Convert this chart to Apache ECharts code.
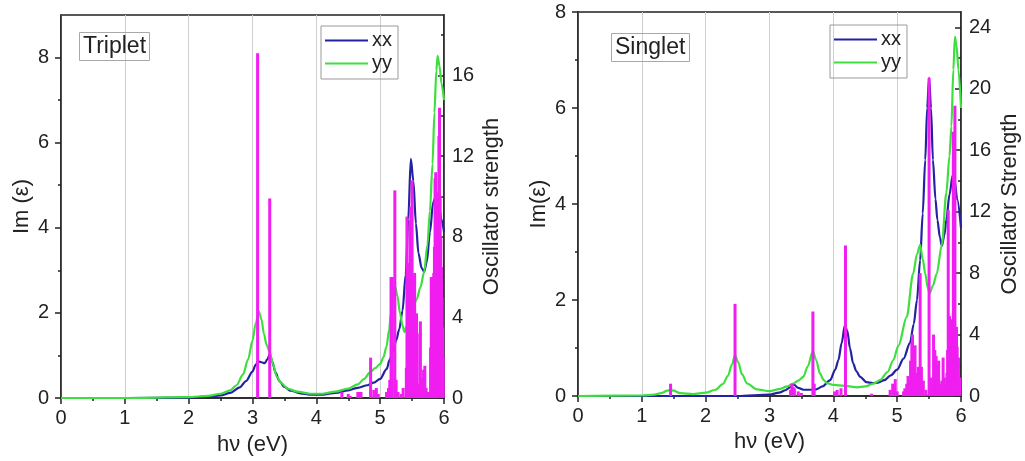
<!DOCTYPE html>
<html>
<head>
<meta charset="utf-8">
<script src="https://cdn.jsdelivr.net/npm/echarts@6/dist/echarts.min.js"></script>
<style>
html,body{margin:0;padding:0;background:#fff;}
#c{width:1025px;height:461px;}
</style>
</head>
<body>
<div id="c"></div>
<script>
// ---------- data ----------
const xTicks = [0, 1, 2, 3, 4, 5, 6];
const tripletLeftTicks = [0, 2, 4, 6, 8];
const tripletRightTicks = [0, 4, 8, 12, 16];
const singletLeftTicks = [0, 2, 4, 6, 8];
const singletRightTicks = [0, 4, 8, 12, 16, 20, 24];

// Triplet, Im(eps) xx  [hv, value]
const tripletXX = [[0,0],[1,0],[2,0.01],[2.3,0.03],[2.5,0.06],[2.65,0.12],[2.8,0.25],[2.9,0.4],[3.0,0.62],[3.05,0.78],[3.09,0.86],[3.14,0.84],[3.19,0.82],[3.23,0.9],[3.27,1.02],[3.31,0.85],[3.36,0.6],[3.42,0.4],[3.5,0.26],[3.6,0.17],[3.75,0.11],[3.9,0.08],[4.1,0.08],[4.3,0.12],[4.5,0.18],[4.65,0.24],[4.8,0.3],[4.9,0.36],[5.0,0.45],[5.1,0.68],[5.15,0.9],[5.2,1.1],[5.25,1.35],[5.3,1.62],[5.35,2.05],[5.4,2.9],[5.44,4.2],[5.48,5.62],[5.52,5.1],[5.56,4.1],[5.6,3.4],[5.65,3.05],[5.69,2.97],[5.73,3.2],[5.78,3.9],[5.83,4.6],[5.87,4.73],[5.92,4.5],[5.96,4.2],[6.0,3.9]];
// Triplet, Im(eps) yy
const tripletYY = [[0,0],[1,0],[2,0.02],[2.3,0.05],[2.5,0.1],[2.65,0.18],[2.75,0.3],[2.85,0.55],[2.93,0.9],[3.0,1.35],[3.05,1.75],[3.1,2.03],[3.14,1.85],[3.18,1.5],[3.22,1.25],[3.27,1.08],[3.32,0.8],[3.38,0.5],[3.45,0.35],[3.55,0.22],[3.7,0.15],[3.9,0.1],[4.1,0.1],[4.3,0.15],[4.5,0.22],[4.65,0.32],[4.75,0.45],[4.84,0.6],[4.92,0.7],[5.0,0.8],[5.05,0.95],[5.1,1.21],[5.14,1.6],[5.17,2.0],[5.2,2.4],[5.23,2.65],[5.27,2.4],[5.31,2.0],[5.35,1.7],[5.38,1.55],[5.42,1.7],[5.5,2.05],[5.57,2.31],[5.63,2.6],[5.69,2.97],[5.74,3.6],[5.78,4.4],[5.82,5.5],[5.85,6.7],[5.88,7.7],[5.9,8.04],[5.93,7.8],[5.96,7.4],[6.0,7.0]];
// Triplet, oscillator strength  [hv, f]
const tripletBars = [[3.08,17.1],[3.27,9.9],[4.40,0.3],[4.50,0.2],[4.53,0.1],[4.65,0.3],[4.68,0.3],[4.70,0.3],[4.85,2.0],[4.90,0.4],[4.94,0.5],[4.97,0.2],[5.10,0.3],[5.13,0.5],[5.15,0.9],[5.17,6.0],[5.19,6.0],[5.23,10.3],[5.25,0.9],[5.28,0.3],[5.33,0.2],[5.36,0.5],[5.41,1.5],[5.42,9.0],[5.43,5.5],[5.45,6.7],[5.47,8.8],[5.48,9.5],[5.50,10.8],[5.51,5.9],[5.53,5.5],[5.54,6.2],[5.57,4.2],[5.59,0.7],[5.62,3.2],[5.63,3.8],[5.65,1.0],[5.66,0.6],[5.68,1.4],[5.70,1.6],[5.72,0.5],[5.74,0.3],[5.77,0.3],[5.79,2.5],[5.80,6.0],[5.81,4.5],[5.82,6.0],[5.83,5.5],[5.84,6.2],[5.85,7.5],[5.86,10.9],[5.87,11.2],[5.88,9.0],[5.89,10.2],[5.90,7.0],[5.91,9.5],[5.92,13.0],[5.93,14.4],[5.94,10.0],[5.95,8.0],[5.96,6.5],[5.97,5.0],[5.98,3.5],[5.99,2.0]];

// Singlet, Im(eps) xx
const singletXX = [[0,0],[2.5,0],[3.0,0.03],[3.15,0.07],[3.25,0.12],[3.32,0.18],[3.38,0.24],[3.45,0.17],[3.53,0.13],[3.63,0.13],[3.73,0.14],[3.83,0.2],[3.95,0.33],[4.03,0.55],[4.08,0.75],[4.13,1.1],[4.18,1.47],[4.22,1.35],[4.26,1.0],[4.31,0.68],[4.36,0.52],[4.42,0.4],[4.52,0.29],[4.62,0.27],[4.7,0.28],[4.8,0.33],[4.9,0.43],[5.0,0.55],[5.1,0.78],[5.2,1.1],[5.26,1.5],[5.31,2.0],[5.36,2.83],[5.4,3.8],[5.44,4.92],[5.47,6.0],[5.5,6.63],[5.53,6.0],[5.56,4.92],[5.6,4.1],[5.63,3.67],[5.67,3.3],[5.7,3.13],[5.74,3.35],[5.77,3.67],[5.82,4.2],[5.87,4.6],[5.9,4.5],[5.94,4.1],[6.0,3.5]];
// Singlet, Im(eps) yy
const singletYY = [[0,0],[1.0,0.01],[1.2,0.03],[1.3,0.06],[1.4,0.11],[1.45,0.13],[1.5,0.11],[1.6,0.06],[1.8,0.04],[2.0,0.07],[2.15,0.13],[2.27,0.25],[2.35,0.42],[2.41,0.65],[2.46,0.85],[2.51,0.7],[2.57,0.45],[2.65,0.26],[2.8,0.14],[3.0,0.1],[3.17,0.15],[3.28,0.2],[3.37,0.26],[3.45,0.32],[3.53,0.4],[3.6,0.62],[3.68,0.94],[3.73,0.75],[3.79,0.47],[3.85,0.33],[3.9,0.27],[4.0,0.23],[4.1,0.22],[4.25,0.2],[4.37,0.18],[4.5,0.2],[4.63,0.26],[4.73,0.33],[4.85,0.5],[4.94,0.75],[5.02,1.05],[5.15,1.65],[5.25,2.55],[5.31,2.95],[5.36,3.15],[5.4,2.85],[5.44,2.55],[5.48,2.25],[5.51,2.14],[5.56,2.3],[5.62,2.55],[5.7,3.15],[5.77,4.23],[5.82,5.0],[5.85,5.62],[5.88,6.8],[5.905,7.48],[5.93,7.3],[5.96,6.8],[6.0,6.0]];
// Singlet, oscillator strength
const singletBars = [[1.45,0.8],[2.46,6.0],[3.33,0.4],[3.35,0.8],[3.37,0.6],[3.39,0.5],[3.45,0.3],[3.50,0.2],[3.68,5.5],[3.70,0.8],[4.02,0.3],[4.06,0.4],[4.12,0.5],[4.19,9.8],[4.60,0.15],[4.89,0.4],[4.93,0.8],[4.97,1.1],[5.00,0.3],[5.10,0.3],[5.12,0.5],[5.15,0.8],[5.17,1.3],[5.19,1.0],[5.21,2.3],[5.23,3.5],[5.24,4.0],[5.26,3.2],[5.28,3.3],[5.30,1.5],[5.33,1.9],[5.36,8.0],[5.38,1.9],[5.41,1.0],[5.45,0.4],[5.50,20.7],[5.53,1.2],[5.57,4.0],[5.59,3.0],[5.61,2.6],[5.63,2.0],[5.65,2.3],[5.67,0.8],[5.70,1.0],[5.72,2.5],[5.74,1.2],[5.76,0.8],[5.78,1.5],[5.79,3.0],[5.80,12.1],[5.81,5.0],[5.82,5.2],[5.83,4.6],[5.84,5.0],[5.85,3.8],[5.86,4.5],[5.87,3.5],[5.88,17.2],[5.89,16.0],[5.905,18.9],[5.92,4.2],[5.93,4.5],[5.94,3.2],[5.96,2.5],[5.98,1.2]];

// ---------- style ----------
const FONT = '"Liberation Sans", Arial, Helvetica, sans-serif';
const INK = '#222';
const BLUE = '#2222a2';
const GREEN = '#3ede3e';
const MAGENTA = '#f01ef0';

function minorOf(ticks, max) {
  const out = [];
  for (let i = 0; i + 1 < ticks.length; i++) out.push((ticks[i] + ticks[i + 1]) / 2);
  const step = ticks[1] - ticks[0];
  const next = ticks[ticks.length - 1] + step / 2;
  if (next < max) out.push(next);
  return out;
}

function xAxisFor(g, gap) {
  return {
    gridIndex: g, type: 'value', min: 0, max: 6, interval: 1,
    name: 'hν (eV)', nameLocation: 'middle', nameGap: gap,
    nameTextStyle: { fontSize: 22, color: INK, fontFamily: FONT },
    axisLine: { onZero: false, lineStyle: { color: INK, width: 1.5 } },
    axisTick: { length: 6, lineStyle: { color: INK, width: 1.5 } },
    minorTick: { show: true, splitNumber: 2, length: 3, lineStyle: { color: INK, width: 1.5 } },
    axisLabel: { fontSize: 20, color: INK, fontFamily: FONT, margin: 10 },
    splitLine: { show: true, lineStyle: { color: '#cfcfcf', width: 1 } }
  };
}
function yMain(g, pos, max, ticks, name, gap) {
  return {
    gridIndex: g, type: 'value', position: pos, min: 0, max: max,
    name: name, nameLocation: 'middle', nameGap: gap, nameRotate: 90,
    nameTextStyle: { fontSize: 22, color: INK, fontFamily: FONT },
    axisLine: { show: true, onZero: false, lineStyle: { color: INK, width: 1.5 } },
    axisTick: { show: true, inside: pos === 'right', length: 6, customValues: ticks, lineStyle: { color: INK, width: 1.5 } },
    axisLabel: { show: true, customValues: ticks, fontSize: 20, color: INK, fontFamily: FONT, margin: pos === 'right' ? 8 : 12 },
    splitLine: { show: false }
  };
}
function yMinor(g, pos, max, ticks) {
  return {
    gridIndex: g, type: 'value', position: pos, min: 0, max: max,
    axisLine: { show: false },
    axisTick: { show: true, inside: pos === 'right', length: 3, customValues: minorOf(ticks, max), lineStyle: { color: INK, width: 1.5 } },
    axisLabel: { show: false },
    splitLine: { show: false }
  };
}
function lineSeries(name, xi, yi, data, color) {
  return {
    name: name, type: 'line', xAxisIndex: xi, yAxisIndex: yi, data: data,
    symbol: 'none', smooth: 0.3, smoothMonotone: 'x', clip: true,
    legendIcon: 'rect',
    lineStyle: { color: color, width: 2.2 }, itemStyle: { color: color }, z: 3
  };
}
function barSeries(xi, yi, data) {
  return {
    name: 'f', type: 'bar', xAxisIndex: xi, yAxisIndex: yi, data: data,
    barWidth: 3, itemStyle: { color: MAGENTA }, z: 4, clip: true
  };
}
function legendAt(left, top) {
  return {
    left: left, top: top, orient: 'vertical', data: ['xx', 'yy'],
    icon: 'rect', itemWidth: 43, itemHeight: 2.2, itemGap: 0,
    itemStyle: { borderWidth: 0 },
    textStyle: { fontSize: 20, color: INK, fontFamily: FONT, lineHeight: 23, padding: [0, 0, 0, -1] },
    borderColor: '#9a9a9a', borderWidth: 1, padding: [3, 6, 4, 4],
    selectedMode: false
  };
}
function tag(text, left, top) {
  return {
    text: text, left: left, top: top,
    borderColor: '#a8a8a8', borderWidth: 1, padding: [3, 4, 3, 4],
    textStyle: { fontSize: 23, fontWeight: 'normal', color: INK, fontFamily: FONT }
  };
}

const chart = echarts.init(document.getElementById('c'), null, { renderer: 'canvas' });
chart.setOption({
  animation: false,
  backgroundColor: '#fff',
  textStyle: { fontFamily: FONT },
  title: [tag('Triplet', 79, 32), tag('Singlet', 611, 33)],
  legend: [legendAt(321, 26), legendAt(830, 25)],
  grid: [
    { left: 61, right: 581, top: 15, bottom: 63, show: true, borderColor: INK, borderWidth: 1.5 },
    { left: 578, right: 64, top: 12, bottom: 65, show: true, borderColor: INK, borderWidth: 1.5 }
  ],
  xAxis: [xAxisFor(0, 36), xAxisFor(1, 31)],
  yAxis: [
    yMain(0, 'left', 9, tripletLeftTicks, 'Im (ε)', 28),
    yMinor(0, 'left', 9, tripletLeftTicks),
    yMain(0, 'right', 19, tripletRightTicks, 'Oscillator strength', 37),
    yMinor(0, 'right', 19, tripletRightTicks),
    yMain(1, 'left', 8, singletLeftTicks, 'Im(ε)', 28),
    yMinor(1, 'left', 8, singletLeftTicks),
    yMain(1, 'right', 25, singletRightTicks, 'Oscillator Strength', 38),
    yMinor(1, 'right', 25, singletRightTicks)
  ],
  series: [
    lineSeries('xx', 0, 0, tripletXX, BLUE),
    lineSeries('yy', 0, 0, tripletYY, GREEN),
    barSeries(0, 2, tripletBars),
    lineSeries('xx', 1, 4, singletXX, BLUE),
    lineSeries('yy', 1, 4, singletYY, GREEN),
    barSeries(1, 6, singletBars)
  ]
});
</script>
</body>
</html>
